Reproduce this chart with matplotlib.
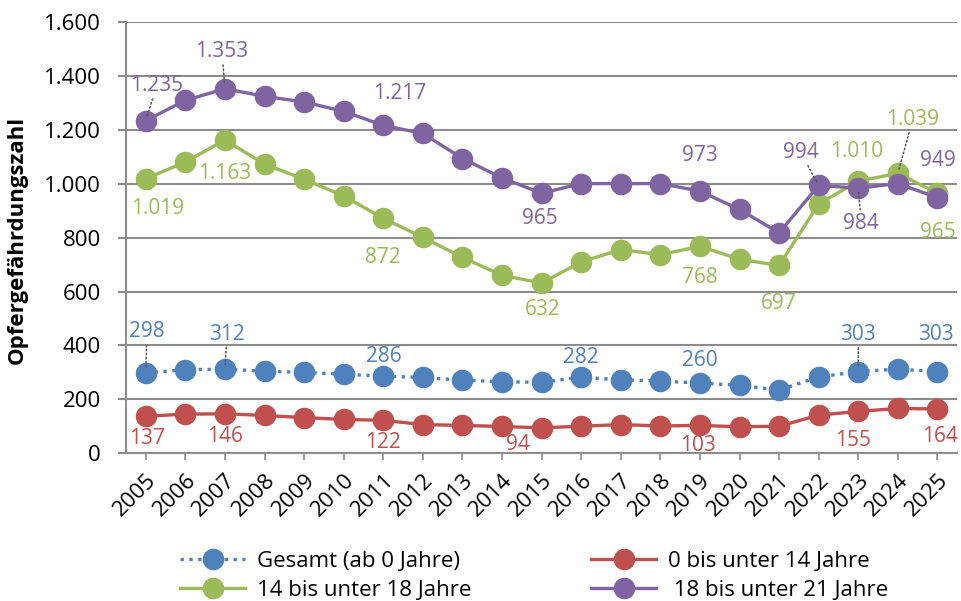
import numpy as np
import matplotlib.pyplot as plt
from matplotlib.ticker import FuncFormatter

jahre = list(range(2005, 2026))

gesamt = [298, 310, 312, 304, 300, 293, 286, 281, 271, 265, 263, 282, 272, 268, 260, 252, 234, 283, 303, 312, 303]
u14 = [137, 145, 146, 140, 132, 125, 122, 106, 103, 99, 94, 100, 106, 101, 103, 98, 100, 141, 155, 166, 164]
u18 = [1019, 1081, 1163, 1073, 1017, 955, 872, 801, 727, 660, 632, 710, 756, 737, 768, 720, 697, 925, 1010, 1039, 965]
u21 = [1235, 1310, 1353, 1325, 1304, 1269, 1217, 1187, 1094, 1022, 965, 1001, 1001, 1001, 973, 905, 818, 994, 984, 1001, 949]

namen = ['Gesamt (ab 0 Jahre)', '0 bis unter 14 Jahre', '14 bis unter 18 Jahre', ' 18 bis unter 21 Jahre']
farben = ['#4F81BD', '#C0504D', '#9BBB59', '#8064A2']

# beschriftete Punkte: (Jahr, Versatz x, Versatz y in Pixel, Hilfslinie)
lab_gesamt = [(2005, 1, 41, True), (2007, 2, 35, True), (2011, 1, 20, False), (2016, 0, 20, False),
              (2019, 0, 23, False), (2023, 0, 37, True), (2025, -2, 37, False)]
lab_u14 = [(2005, 1, -22, False), (2007, 0, -23, False), (2011, 0, -22, False), (2015, -24, -17, False),
           (2019, -2, -20, False), (2023, -5, -29, False), (2025, 3, -28, False)]
lab_u18 = [(2005, 12, -30, False), (2007, 0, -34, False), (2011, 0, -39, False), (2015, 1, -27, False),
           (2019, 0, -31, False), (2021, 0, -38, False), (2023, -2, 30, False), (2024, 15, 54, True),
           (2025, 0, -39, False)]
lab_u21 = [(2005, 11, 35, True), (2007, -3, 37, True), (2011, 16, 32, False), (2015, -2, -25, False),
           (2019, 0, 36, False), (2022, -18, 33, True), (2023, 3, -35, True), (2025, 0, 37, False)]

plt.rcParams['font.family'] = ['Open Sans', 'DejaVu Sans']

fig = plt.figure(figsize=(9.62, 6.01), dpi=100)
ax = fig.add_axes([0.131, 0.246, 0.864, 0.717])

serien = [gesamt, u14, u18, u21]
stile = [':', '-', '-', '-']
linien = []
for werte, name, farbe, stil in zip(serien, namen, farben, stile):
    l, = ax.plot(jahre, werte, linestyle=stil, color=farbe, linewidth=2.4, marker='o',
                 markersize=14.5, label=name, zorder=3)
    linien.append(l)

def fmt(v):
    return f'{v:,}'.replace(',', '.')

for werte, labs, farbe in zip(serien, [lab_gesamt, lab_u14, lab_u18, lab_u21], farben):
    for jahr, dx, dy, linie in labs:
        v = werte[jahre.index(jahr)]
        ap = None
        if linie:
            ap = dict(arrowstyle='-', linestyle=':', color='#555555', lw=1.1, shrinkA=0, shrinkB=3)
        ax.annotate(fmt(v), (jahr, v), xytext=(dx, dy), textcoords='offset pixels',
                    ha='center', va='center', fontsize=15, color=farbe, arrowprops=ap, zorder=4)

ax.set_xlim(2004.5, 2025.5)
ax.set_ylim(0, 1600)
ax.set_yticks(range(0, 1601, 200))
ax.yaxis.set_major_formatter(FuncFormatter(lambda v, p: fmt(int(v))))
ax.set_xticks(jahre)
ax.set_xticklabels([str(j) for j in jahre], rotation=45, ha='right', va='top',
                   rotation_mode='anchor', fontsize=16)
ax.tick_params(axis='y', length=6, width=1.5, color='#8c8c8c', labelsize=16, pad=12)
ax.tick_params(axis='x', length=5, width=1.2, color='#8c8c8c', pad=7)
ax.grid(axis='y', color='#8c8c8c', linewidth=1.5)
ax.set_axisbelow(True)
for s in ['top', 'right']:
    ax.spines[s].set_visible(False)
for s in ['left', 'bottom']:
    ax.spines[s].set_color('#8c8c8c')
    ax.spines[s].set_linewidth(1.5)

ax.set_ylabel('Opfergefährdungszahl', fontsize=16, fontweight='bold')
ax.yaxis.set_label_coords(-0.118, 0.494)

reihenfolge = [0, 2, 1, 3]
fig.legend([linien[i] for i in reihenfolge], [namen[i] for i in reihenfolge],
           loc='upper left', bbox_to_anchor=(0.187, 0.083), ncol=2, frameon=False,
           borderpad=0, borderaxespad=0, fontsize=16, columnspacing=5.4,
           handlelength=2.95, handletextpad=0.5, labelspacing=0.35)

fig.savefig('out.png', dpi=100)
